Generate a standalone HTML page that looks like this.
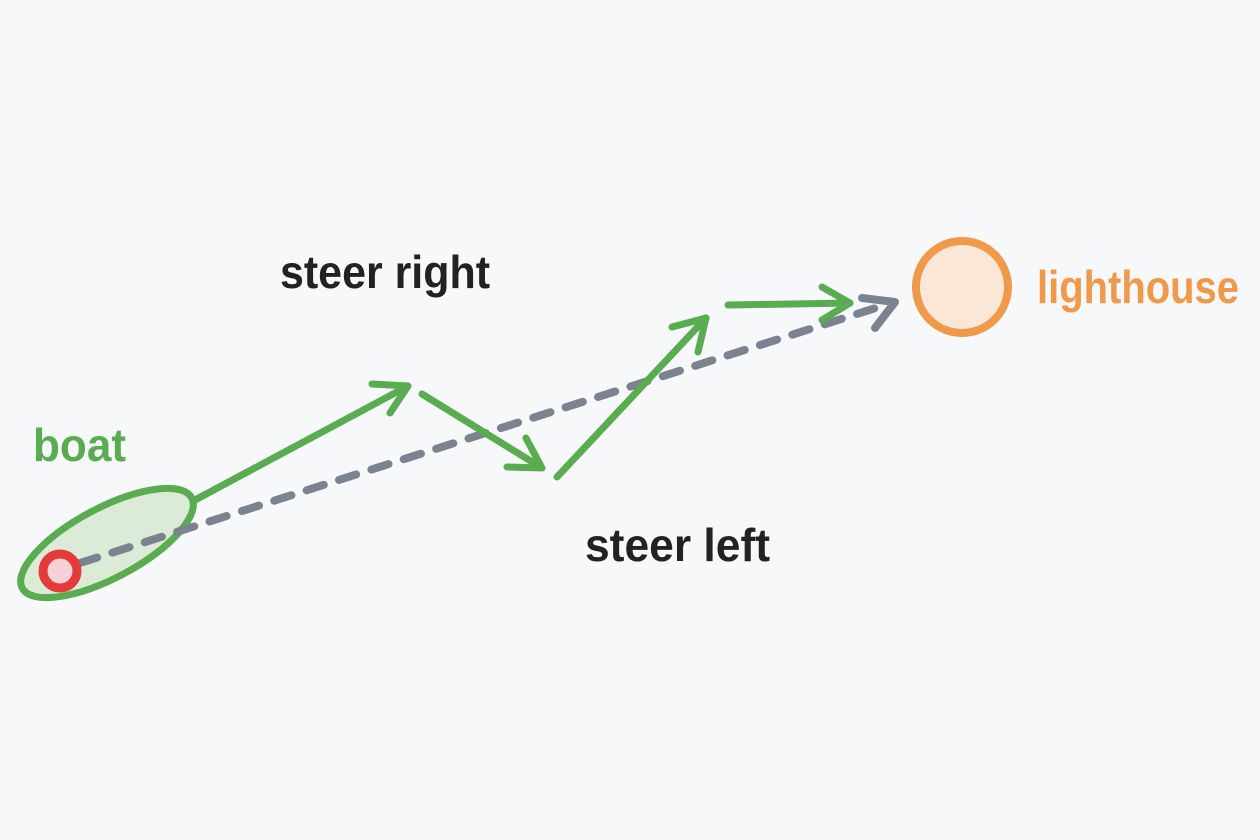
<!DOCTYPE html>
<html><head><style>html,body{margin:0;padding:0;background:#f7f8fa}svg{display:block}</style></head>
<body>
<svg width="1260" height="840" viewBox="0 0 1260 840" xmlns="http://www.w3.org/2000/svg">
<rect width="1260" height="840" fill="#f7f8fa"/>
<g stroke-linecap="round" stroke-linejoin="round" fill="none">
<ellipse cx="107" cy="543" rx="96" ry="35" transform="rotate(-28 107 543)" fill="#dcebd8" stroke="#5aac50" stroke-width="7"/>
<line x1="80" y1="563" x2="885" y2="305" stroke="#7b8290" stroke-width="8" stroke-dasharray="18 16"/>
<polyline points="862,298 895,302 875,328" stroke="#7b8290" stroke-width="8"/>
<line x1="195" y1="500" x2="408" y2="386" stroke="#5aac50" stroke-width="7"/>
<polyline points="372,384 408,386 390,413" stroke="#5aac50" stroke-width="7"/>
<line x1="422" y1="394" x2="542" y2="468" stroke="#5aac50" stroke-width="7"/>
<polyline points="507,467 542,468 526,438" stroke="#5aac50" stroke-width="7"/>
<line x1="557" y1="477" x2="706" y2="318" stroke="#5aac50" stroke-width="7"/>
<polyline points="672,327 706,318 698,352" stroke="#5aac50" stroke-width="7"/>
<line x1="728" y1="305" x2="850" y2="303" stroke="#5aac50" stroke-width="7"/>
<polyline points="822,287 850,303 822,320" stroke="#5aac50" stroke-width="7"/>
<circle cx="60" cy="571" r="17" fill="#f5d0d5" stroke="#e53a3a" stroke-width="9"/>
<circle cx="962" cy="287" r="46" fill="#fbe7d8" stroke="#f0994a" stroke-width="8"/>
</g>
<g font-family="'Liberation Sans Narrow','Liberation Sans',sans-serif" font-weight="bold" font-size="46">
<text x="280" y="288" fill="#222" textLength="210" lengthAdjust="spacingAndGlyphs">steer right</text>
<text x="585" y="561" fill="#222" textLength="185" lengthAdjust="spacingAndGlyphs">steer left</text>
<text x="33" y="461" fill="#5aac50" textLength="93" lengthAdjust="spacingAndGlyphs">boat</text>
<text x="1037" y="303" fill="#f0994a" textLength="202" lengthAdjust="spacingAndGlyphs">lighthouse</text>
</g>
</svg>
</body></html>
